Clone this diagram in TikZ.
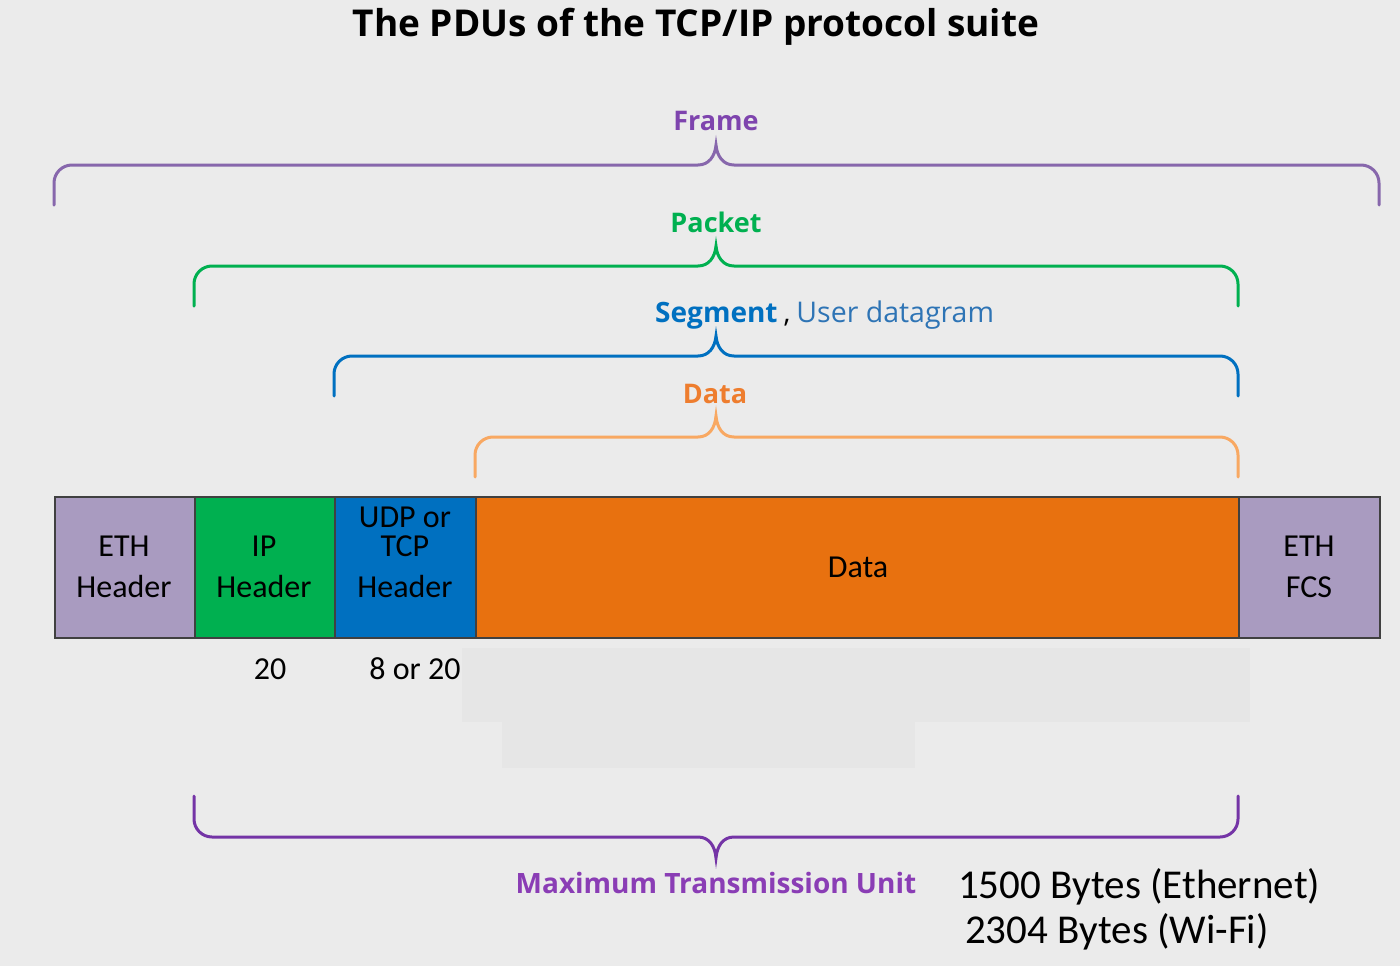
\documentclass[tikz,border=0pt]{standalone}
\usepackage{fontspec}
\setmainfont{Carlito}
\newfontfamily\osans{Open Sans}
\newfontfamily\carl{Carlito}
\definecolor{bg}{HTML}{EBEBEB}
\definecolor{lav}{HTML}{A99BC0}
\definecolor{ipg}{HTML}{00B050}
\definecolor{tcpb}{HTML}{0070C0}
\definecolor{datao}{HTML}{E8710F}
\definecolor{boxline}{HTML}{404040}
\definecolor{frameline}{HTML}{8767AC}
\definecolor{frametxt}{HTML}{7E44AE}
\definecolor{pkt}{HTML}{00B050}
\definecolor{seg}{HTML}{0070C0}
\definecolor{udg}{HTML}{2E74B5}
\definecolor{dataline}{HTML}{F8A862}
\definecolor{datatxt}{HTML}{EE7D2E}
\definecolor{mtuline}{HTML}{7434A6}
\definecolor{mtutxt}{HTML}{8A3DB5}
\definecolor{faint}{HTML}{E6E6E6}
\newcommand\pdubrace[6]{%
  \draw[brc,#1] (#2,-#4) -- (#2,-#5-18) arc[start angle=180,end angle=90,radius=18]
    -- (698,-#5) .. controls (709,-#5) and (715,-#5+9) .. (716,-#6)
    .. controls (717,-#5+9) and (723,-#5) .. (734,-#5)
    -- (#3-18,-#5) arc[start angle=90,end angle=0,radius=18] -- (#3,-#4);}
\begin{document}
\begin{tikzpicture}[x=1pt,y=1pt,
  box/.style={draw=boxline, line width=2.2pt, minimum height=141pt, anchor=north west, inner sep=0pt},
  txt/.style={font=\carl\fontsize{32}{40}\selectfont, anchor=base, text=black, inner sep=0pt},
  num/.style={font=\carl\fontsize{32}{40}\selectfont, anchor=base, text=black, inner sep=0pt},
  big/.style={font=\carl\fontsize{41}{48}\selectfont, anchor=base west, text=black, inner sep=0pt},
  lbl/.style={font=\osans\bfseries\fontsize{27}{32}\selectfont, anchor=base, inner sep=0pt},
  brc/.style={line width=3pt, line cap=round},
]
\fill[bg] (0,0) rectangle (1400,-966);
\useasboundingbox (0,0) rectangle (1400,-966);
% faint patches
\fill[faint] (462,-648) rectangle (1250,-722);
\fill[faint] (502,-722) rectangle (915,-768);
% title
\node[font=\osans\bfseries\fontsize{37}{40}\selectfont, anchor=base, inner sep=0pt] (title) at (696,-37) {The PDUs of the TCP/IP protocol suite};
% braces
\pdubrace{frameline}{54}{1379}{205}{165}{145}
\pdubrace{pkt}{194}{1238}{306}{266}{246}
\pdubrace{seg}{334}{1238}{396}{356}{336}
\pdubrace{dataline}{475}{1238}{477}{437}{416}
\draw[brc,mtuline] (194,-796) -- (194,-837+18) arc[start angle=180,end angle=270,radius=18]
  -- (698,-837) .. controls (709,-837) and (715,-846) .. (716,-858)
  .. controls (717,-846) and (723,-837) .. (734,-837)
  -- (1220,-837) arc[start angle=270,end angle=360,radius=18] -- (1238,-796);
% labels
\node[lbl, text=frametxt] (frameL) at (716,-130) {Frame};
\node[lbl, text=pkt] (packetL) at (716,-232) {Packet};
\node[lbl, anchor=base west, text=seg, font=\osans\bfseries\fontsize{28}{32}\selectfont] (segL) at (655,-322) {Segment\hspace{6pt}{\color{black}\mdseries ,}\hspace{6pt}{\mdseries\color{udg}\fontsize{28.5}{32}\selectfont User datagram}};
\node[lbl, text=datatxt] (dataL) at (715,-403) {Data};
\node[lbl, font=\osans\bfseries\fontsize{28}{32}\selectfont, text=mtutxt] (mtuL) at (716,-893) {Maximum Transmission Unit};
% boxes
\node[box, fill=lav, minimum width=140pt] (eth) at (54,-496) {};
\node[box, fill=ipg, minimum width=140pt] (ip) at (194,-496) {};
\node[box, fill=tcpb, minimum width=141pt] (tcp) at (334,-496) {};
\node[box, fill=datao, minimum width=763pt] (data) at (475,-496) {};
\node[box, fill=lav, minimum width=141pt] (fcs) at (1238,-496) {};
% box texts
\node[txt] (ethA) at (124,-556) {ETH};
\node[txt] (ethB) at (124,-597) {Header};
\node[txt] (ipA) at (264,-556) {IP};
\node[txt] (ipB) at (264,-597) {Header};
\node[txt] (tcpA) at (405,-527) {UDP or};
\node[txt] (tcpB) at (405,-556) {TCP};
\node[txt] (tcpC) at (405,-597) {Header};
\node[txt] (dataT) at (858,-577) {Data};
\node[txt] (fcsA) at (1309,-556) {ETH};
\node[txt] (fcsB) at (1309,-597) {FCS};
% sizes
\node[num] (n20) at (270,-679) {20};
\node[num] (n820) at (415,-679) {8 or 20};
\node[big] (eth1500) at (958,-898) {1500 Bytes (Ethernet)};
\node[big] (wifi2304) at (965,-943) {2304 Bytes (Wi-Fi)};
\end{tikzpicture}
\end{document}
